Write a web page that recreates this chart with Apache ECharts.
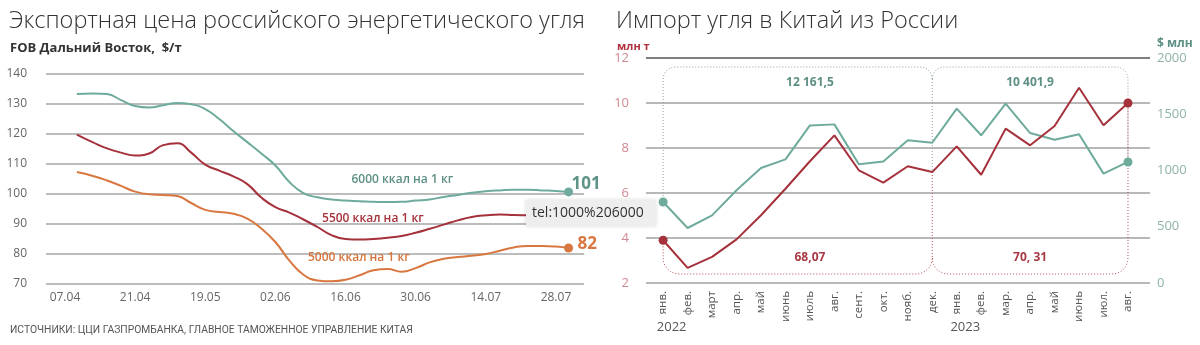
<!DOCTYPE html>
<html><head><meta charset="utf-8">
<script src="https://cdn.jsdelivr.net/npm/echarts@6/dist/echarts.min.js"></script>
<style>html,body{margin:0;padding:0;background:#fff}#c{width:1200px;height:345px}</style>
</head><body><div id="c"></div>
<script>
// ---- Left chart: export price ($/t), x in units of tick-label index ----
const priceTickLabels = ['07.04','21.04','19.05','02.06','16.06','30.06','14.07','28.07'];
const priceX = [0.17,0.4,0.6,0.8,1.0,1.2,1.4,1.6,1.8,2.0,2.2,2.4,2.6,2.8,3.0,3.2,3.4,3.6,3.8,4.0,4.2,4.4,4.6,4.8,5.0,5.2,5.4,5.6,5.8,6.0,6.2,6.4,6.6,6.8,7.0,7.18];
const price6000 = [133.3,133.5,133.3,131.3,129.3,128.8,129.6,130.3,129.9,128.3,125.0,121.0,117.3,113.5,109.5,104.0,100.3,98.9,98.2,97.8,97.6,97.4,97.3,97.4,97.8,98.2,99.0,99.7,100.4,100.9,101.2,101.4,101.4,101.2,101.0,100.7];
const price5500 = [119.8,117.2,115.2,113.8,112.8,113.5,116.3,116.9,113.8,109.8,107.8,105.9,103.3,98.8,95.6,93.8,91.5,89.0,86.3,85.0,84.8,85.0,85.4,86.0,87.1,88.4,89.8,91.2,92.3,92.9,93.2,93.0,92.9,92.8,92.7,92.6];
const price5000 = [107.3,106.0,104.5,102.7,100.8,99.9,99.7,99.3,97.0,94.7,94.0,93.4,91.8,88.5,84.0,77.8,73.1,71.2,70.9,71.4,72.9,74.6,75.0,74.1,75.3,77.2,78.4,79.0,79.4,80.0,81.1,82.2,82.7,82.7,82.5,82.0];
const seriesNames = ['6000 ккал на 1 кг','5500 ккал на 1 кг','5000 ккал на 1 кг'];
const endValues = ['101', '', '82'];

// ---- Right chart: coal import to China from Russia ----
const months = ['янв.','фев.','март','апр.','май','июнь','июль','авг.','сент.','окт.','нояб.','дек.','янв.','фев.','мар.','апр.','май','июнь','июл.','авг.'];
const years = ['2022','2023'];
const volumeMt = [3.90,2.67,3.16,3.94,5.01,6.19,7.41,8.56,7.01,6.46,7.19,6.93,8.07,6.81,8.86,8.12,8.98,10.68,9.01,10.0];
const valueUsd = [720,489,601,824,1022,1099,1401,1410,1055,1081,1268,1247,1550,1313,1594,1333,1274,1322,972,1076];
const bracketSpans = [[0,11],[11,19]];
const bracketLabelAt = [6,15];
const valueTotals = ['12 161,5','10 401,9'];
const volumeTotals = ['68,07','70, 31'];

const TEAL = '#6eab9d', RED = '#a5313b', ORANGE = '#d8773f';
const chart = echarts.init(document.getElementById('c'), null, {renderer:'canvas'});

function endSym(len){ return (v,p)=> p.dataIndex===len-1 ? 9 : 0; }
function edgeSym(len){ return (v,p)=> (p.dataIndex===0||p.dataIndex===len-1) ? 9 : 0; }

const lastIdx = months.length - 1;
function corner(cx, cy, r, a0, a1){
  const pts=[]; for(let k=0;k<=8;k++){const a=a0+(a1-a0)*k/8; pts.push([cx+r*Math.cos(a), cy+r*Math.sin(a)]);} return pts;
}
function renderBracket(params, api){
  const a = api.value(0), b = api.value(1), i = api.value(2), lab = api.value(3);
  const toMt = v => 2 + v/200;
  const xa = api.coord([a, 2])[0], xb = api.coord([b, 2])[0];
  const topY = api.coord([a, 11.6])[1], botY = api.coord([a, 2.4])[1];
  const rT = 12, rB = 16;
  const tealA = api.coord([a, toMt(valueUsd[a])])[1], tealB = api.coord([b, toMt(valueUsd[b])])[1];
  const redA = api.coord([a, volumeMt[a]])[1], redB = api.coord([b, volumeMt[b]])[1];
  const PI = Math.PI;
  let top = [[xa, a===0 ? tealA : topY+rT]];
  top = top.concat(corner(xa+rT, topY+rT, rT, PI, 1.5*PI));
  top = top.concat(corner(xb-rT, topY+rT, rT, 1.5*PI, 2*PI));
  top.push([xb, b===lastIdx ? tealB : topY+rT]);
  let bot = [[xa, a===0 ? redA : botY-rB]];
  bot = bot.concat(corner(xa+rB, botY-rB, rB, PI, 0.5*PI));
  bot = bot.concat(corner(xb-rB, botY-rB, rB, 0.5*PI, 0));
  bot.push([xb, b===lastIdx ? redB : botY-rB]);
  const dotted = {lineDash:[1,2], lineWidth:1, fill:null};
  const children = [
    {type:'polyline', shape:{points:top}, style:Object.assign({stroke:'#8f9e9a'}, dotted)},
    {type:'polyline', shape:{points:bot}, style:Object.assign({stroke:'#b24a53'}, dotted)},
    {type:'text', x: api.coord([lab,2])[0], y: topY+16, style:{text:valueTotals[i], fill:'#5e8f85', font:'bold 12px "Open Sans"', align:'center', verticalAlign:'middle'}},
    {type:'text', x: api.coord([lab,2])[0], y: botY-16, style:{text:volumeTotals[i], fill:'#a93a45', font:'bold 12px "Open Sans"', align:'center', verticalAlign:'middle'}}
  ];
  if (b !== lastIdx){
    children.push({type:'line', shape:{x1:xb,y1:topY+rT,x2:xb,y2:redB}, style:Object.assign({stroke:'#8f9e9a'}, dotted)});
    children.push({type:'line', shape:{x1:xb,y1:redB,x2:xb,y2:botY-rB}, style:Object.assign({stroke:'#b24a53'}, dotted)});
  }
  return {type:'group', children};
}

const gridLine = {color:'#a6a6a6', width:1.5};

chart.setOption({
  animation:false,
  textStyle:{fontFamily:'"Open Sans", sans-serif'},
  title:[
    {text:'Экспортная цена российского энергетического угля', left:4, top:4, textStyle:{fontSize:23.5, fontWeight:300, color:'#333', fontFamily:'"Open Sans"'}},
    {text:'FOB Дальний Восток,  $/т', left:5, top:37, textStyle:{fontSize:13, fontWeight:'bold', color:'#333', fontFamily:'"Open Sans"'}},
    {text:'Импорт угля в Китай из России', left:611, top:4, textStyle:{fontSize:23.5, fontWeight:300, color:'#333', fontFamily:'"Open Sans"'}},
    {text:'млн т', left:612, top:36, textStyle:{fontSize:11, fontWeight:'bold', color:'#b0303e', fontFamily:'"Open Sans"'}},
    {text:'$ млн', left:1152, top:33, textStyle:{fontSize:12, fontWeight:'bold', color:'#5e8f85', fontFamily:'"Open Sans"'}},
    {text:'ИСТОЧНИКИ: ЦЦИ ГАЗПРОМБАНКА, ГЛАВНОЕ ТАМОЖЕННОЕ УПРАВЛЕНИЕ КИТАЯ', left:5, top:320, textStyle:{fontSize:10.3, fontWeight:'normal', color:'#555', fontFamily:'Roboto'}}
  ],
  grid:[
    {left:46, top:74, width:538, height:210},
    {left:646, top:58, width:504, height:225}
  ],
  xAxis:[
    {type:'value', gridIndex:0, min:-0.27, max:7.4, axisLine:{show:false}, axisTick:{show:false}, splitLine:{show:false},
      axisLabel:{customValues:[0,1,2,3,4,5,6,7], formatter:v=>priceTickLabels[Math.round(v)], color:'#666', fontSize:12, margin:8, fontFamily:'"Open Sans"'}},
    {type:'value', gridIndex:1, min:-0.7, max:19.9, axisLine:{show:false}, axisTick:{show:false}, splitLine:{show:false},
      axisLabel:{customValues:months.map((m,i)=>i), formatter:v=>months[Math.round(v)], rotate:90, color:'#555', fontSize:11.5, margin:8, fontFamily:'"Open Sans"'}},
    {type:'value', gridIndex:1, min:-0.7, max:19.9, position:'bottom', offset:36, axisLine:{show:false}, axisTick:{show:false}, splitLine:{show:false},
      axisLabel:{customValues:[0.35,12.35], formatter:v=>years[v<6?0:1], color:'#555', fontSize:13, margin:2, fontFamily:'"Open Sans"'}}
  ],
  yAxis:[
    {type:'value', gridIndex:0, min:70, max:140, interval:10, axisLine:{show:false}, axisTick:{show:false},
      splitLine:{lineStyle:gridLine}, axisLabel:{color:'#666', fontSize:12, margin:19}},
    {type:'value', gridIndex:1, min:2, max:12, interval:2, axisLine:{show:false}, axisTick:{show:false},
      splitLine:{lineStyle:{color:['#a0a0a0','#a0a0a0','#a0a0a0','#a0a0a0','#a0a0a0','#555'], width:1.5}},
      axisLabel:{color:'#d08890', fontSize:13, margin:17}},
    {type:'value', gridIndex:1, position:'right', min:0, max:2000, interval:500, axisLine:{show:false}, axisTick:{show:false},
      splitLine:{show:false}, axisLabel:{color:'#8fb2aa', fontSize:13, margin:7, formatter:v=>String(v)}}
  ],
  series:[
    {type:'line', xAxisIndex:0, yAxisIndex:0, data:priceX.map((x,i)=>[x,price6000[i]]), smooth:0.5, lineStyle:{color:TEAL,width:2}, itemStyle:{color:TEAL},
      symbol:'circle', showSymbol:true, showAllSymbol:true, symbolSize:endSym(priceX.length),
      endLabel:{show:true, formatter:endValues[0], color:'#5e9488', fontSize:17, fontWeight:'bold', offset:[0,-8], distance:3},
      markPoint:{symbolSize:0, label:{show:true, formatter:seriesNames[0], color:'#5e8f85', fontSize:12, fontWeight:600}, data:[{coord:[4.81,104.8]}]}},
    {type:'line', xAxisIndex:0, yAxisIndex:0, data:priceX.map((x,i)=>[x,price5500[i]]), smooth:0.5, lineStyle:{color:RED,width:2}, itemStyle:{color:RED},
      symbol:'circle', showSymbol:true, showAllSymbol:true, symbolSize:endSym(priceX.length),
      markPoint:{symbolSize:0, label:{show:true, formatter:seriesNames[1], color:'#a5313b', fontSize:12, fontWeight:600}, data:[{coord:[4.39,91.8]}]}},
    {type:'line', xAxisIndex:0, yAxisIndex:0, data:priceX.map((x,i)=>[x,price5000[i]]), smooth:0.5, lineStyle:{color:ORANGE,width:2}, itemStyle:{color:ORANGE},
      symbol:'circle', showSymbol:true, showAllSymbol:true, symbolSize:endSym(priceX.length),
      endLabel:{show:true, formatter:endValues[2], color:ORANGE, fontSize:17, fontWeight:'bold', offset:[6,-4], distance:3},
      markPoint:{symbolSize:0, label:{show:true, formatter:seriesNames[2], color:'#d4733b', fontSize:12, fontWeight:600}, data:[{coord:[4.19,78.8]}]}},
    {type:'custom', xAxisIndex:1, yAxisIndex:1, clip:false, renderItem:renderBracket, z:1,
      data:bracketSpans.map((s,i)=>[s[0],s[1],i,bracketLabelAt[i]])},
    {type:'line', xAxisIndex:1, yAxisIndex:2, data:valueUsd.map((v,i)=>[i,v]), lineStyle:{color:TEAL,width:2}, itemStyle:{color:TEAL},
      symbol:'circle', showSymbol:true, showAllSymbol:true, symbolSize:edgeSym(valueUsd.length), z:3},
    {type:'line', xAxisIndex:1, yAxisIndex:1, data:volumeMt.map((v,i)=>[i,v]), lineStyle:{color:RED,width:2}, itemStyle:{color:RED},
      symbol:'circle', showSymbol:true, showAllSymbol:true, symbolSize:edgeSym(volumeMt.length), z:4}
  ],
  graphic:[
    {type:'group', left:526, top:200, zlevel:5, z:100, children:[
      {type:'rect', zlevel:5, shape:{x:0,y:0,width:130,height:26}, style:{fill:'#eeeeee', shadowBlur:4, shadowColor:'rgba(0,0,0,0.15)'}},
      {type:'text', zlevel:5, x:6, y:13, style:{text:'tel:1000%206000', fill:'#333', font:'14px "Open Sans"', verticalAlign:'middle'}}
    ]}
  ]
});
</script></body></html>
